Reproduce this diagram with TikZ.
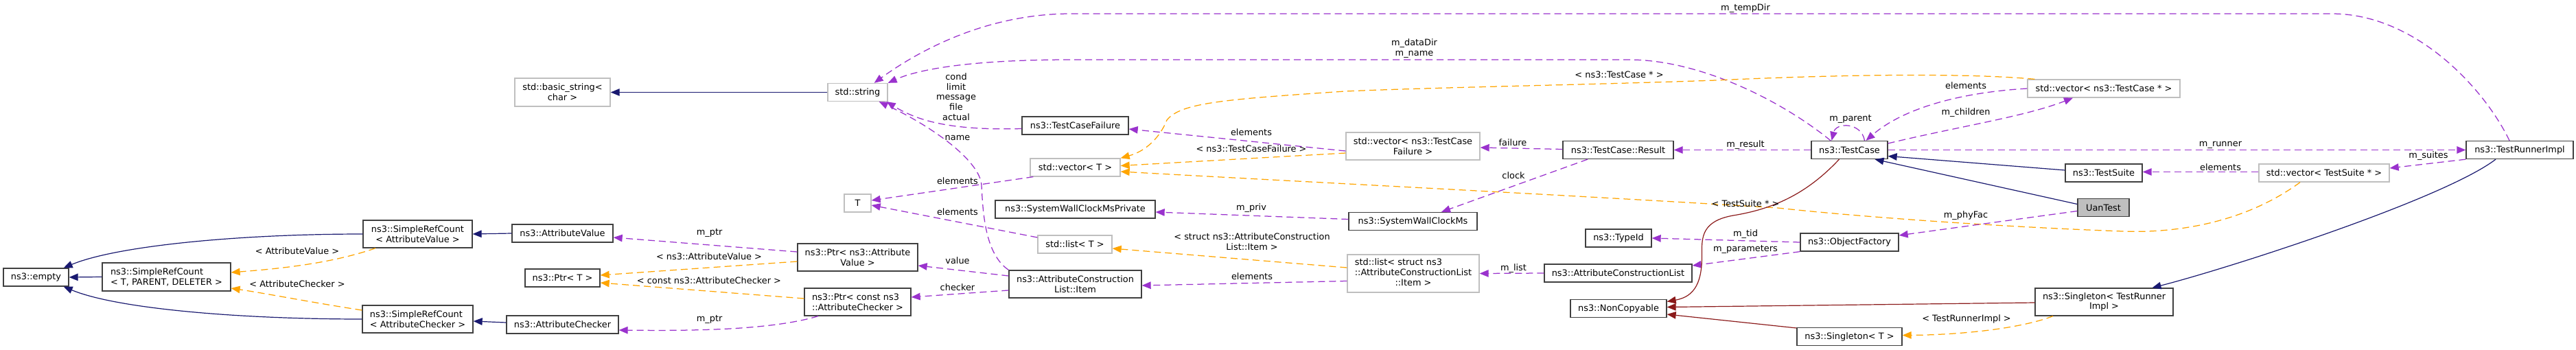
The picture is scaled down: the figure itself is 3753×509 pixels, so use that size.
\documentclass[tikz,border=0pt]{standalone}
\usepackage{fontspec}
\setmainfont{DejaVu Sans}
\usetikzlibrary{arrows.meta}
\definecolor{midblue}{HTML}{191970}
\definecolor{orchid}{HTML}{9A32CD}
\definecolor{orng}{HTML}{FFA500}
\definecolor{fbrick}{HTML}{8B1A1A}
\definecolor{grey75}{HTML}{BFBFBF}
\definecolor{docborder}{HTML}{404040}
\begin{document}
\begin{tikzpicture}[x=1pt,y=-1pt,
  doc/.style={draw=docborder, line width=1.3pt, fill=white, inner sep=0pt, align=center, font=\fontsize{12.9pt}{14.8pt}\selectfont},
  udoc/.style={doc, draw=grey75},
  lab/.style={inner sep=0pt, align=center, font=\fontsize{12.9pt}{14.8pt}\selectfont},
  tipk/.style={-{Triangle[length=13pt,width=10.5pt]}},
  eblue/.style={draw=midblue, line width=1.2pt, tipk},
  ered/.style={draw=fbrick, line width=1.2pt, tipk},
  epurple/.style={draw=orchid, line width=1.25pt, dash pattern=on 10pt off 6pt, tipk},
  eorange/.style={draw=orng, line width=1.25pt, dash pattern=on 10pt off 6pt, tipk}]
\fill[white] (0,0) rectangle (3753,509);
\useasboundingbox (0,0) rectangle (3753,509);

% nodes
\node[doc,minimum width=95pt,minimum height=26pt] (empty) at (52.5,404) {ns3::empty};
\node[doc,minimum width=187pt,minimum height=41pt,align=left] (srcTPD) at (242.5,403.5) {ns3::SimpleRefCount\\< T, PARENT, DELETER >};
\node[doc,minimum width=159pt,minimum height=40pt] (srcAV) at (608.5,341) {ns3::SimpleRefCount\\< AttributeValue >};
\node[doc,minimum width=161pt,minimum height=40pt,align=left] (srcAC) at (608.5,465) {ns3::SimpleRefCount\\< AttributeChecker >};
\node[udoc,minimum width=139pt,minimum height=41pt] (basicstr) at (819.5,134.5) {std::basic\_string<\\char >};
\node[udoc,minimum width=87pt,minimum height=26pt] (string) at (1249.5,134.5) {std::string};
\node[udoc,minimum width=39pt,minimum height=26pt] (T) at (1249.5,296) {T};
\node[doc,minimum width=175pt,minimum height=40pt] (ptrAV) at (1249.5,375) {ns3::Ptr< ns3::Attribute\\Value >};
\node[doc,minimum width=155pt,minimum height=40pt,align=left] (ptrAC) at (1249.5,440) {ns3::Ptr< const ns3\\::AttributeChecker >};
\node[doc,minimum width=147pt,minimum height=26pt] (attrValue) at (819.5,340) {ns3::AttributeValue};
\node[doc,minimum width=109pt,minimum height=26pt] (ptrT) at (819.5,405) {ns3::Ptr< T >};
\node[doc,minimum width=163pt,minimum height=26pt] (attrChecker) at (819.5,473) {ns3::AttributeChecker};
\node[doc,minimum width=155pt,minimum height=26pt] (tcf) at (1566.5,183) {ns3::TestCaseFailure};
\node[udoc,minimum width=131pt,minimum height=26pt] (vecT) at (1566.5,244) {std::vector< T >};
\node[doc,minimum width=233pt,minimum height=26pt] (swcmp) at (1566.5,305) {ns3::SystemWallClockMsPrivate};
\node[udoc,minimum width=108pt,minimum height=26pt] (listT) at (1566,356) {std::list< T >};
\node[doc,minimum width=193pt,minimum height=40pt] (acli) at (1566.5,414) {ns3::AttributeConstruction\\List::Item};
\node[udoc,minimum width=195pt,minimum height=40pt] (vecTCF) at (2058.5,213) {std::vector< ns3::TestCase\\Failure >};
\node[doc,minimum width=187pt,minimum height=26pt] (swcm) at (2058.5,322.5) {ns3::SystemWallClockMs};
\node[udoc,minimum width=192pt,minimum height=55pt] (listS) at (2059,398.5) {\begin{tabular}{@{}l@{}}std::list< struct ns3\\::AttributeConstructionList\\\multicolumn{1}{@{}c@{}}{::Item >}\end{tabular}};
\node[doc,minimum width=161pt,minimum height=26pt] (result) at (2357.5,218.5) {ns3::TestCase::Result};
\node[doc,minimum width=96pt,minimum height=26pt] (typeid) at (2358,347) {ns3::TypeId};
\node[doc,minimum width=143pt,minimum height=26pt] (objf) at (2694.5,353) {ns3::ObjectFactory};
\node[doc,minimum width=215pt,minimum height=26pt] (acl) at (2357.5,398) {ns3::AttributeConstructionList};
\node[doc,minimum width=140pt,minimum height=26pt] (noncopy) at (2358,449.5) {ns3::NonCopyable};
\node[doc,minimum width=153pt,minimum height=26pt] (singT) at (2694.5,490.5) {ns3::Singleton< T >};
\node[doc,minimum width=111pt,minimum height=26pt] (testcase) at (2694.5,218.5) {ns3::TestCase};
\node[udoc,minimum width=222pt,minimum height=26pt] (vecTC) at (3065,129) {std::vector< ns3::TestCase * >};
\node[doc,minimum width=112pt,minimum height=26pt] (testsuite) at (3065,252) {ns3::TestSuite};
\node[doc,fill=grey75,minimum width=75pt,minimum height=26pt] (uantest) at (3064.5,302.5) {UanTest};
\node[udoc,minimum width=190pt,minimum height=26pt] (vecTS) at (3386,252) {std::vector< TestSuite * >};
\node[doc,minimum width=156pt,minimum height=26pt] (runner) at (3671,218.5) {ns3::TestRunnerImpl};
\node[doc,minimum width=201pt,minimum height=40pt] (singTRI) at (3065.5,440) {ns3::Singleton< TestRunner\\Impl >};

% edges
\draw[eblue] (srcTPD.west) -- (empty.east);
\draw[eblue] (srcAV.west) .. controls (350,341) and (170,358) .. ([xshift=-8pt]empty.north east);
\draw[eblue] (srcAC.west) .. controls (350,465) and (170,450) .. ([xshift=-8pt]empty.south east);
\draw[eorange] ([xshift=-61.5pt]srcAV.south) .. controls (480,385) and (400,392) .. ([yshift=6.5pt]srcTPD.east);
\draw[eorange] ([yshift=13pt]srcAC.west) .. controls (450,440) and (390,428) .. ([yshift=-16.5pt]srcTPD.east);
\draw[eblue] (attrValue.west) -- (srcAV.east);
\draw[eblue] ([yshift=3pt]attrChecker.west) -- ([yshift=-3pt]srcAC.east);
\draw[epurple] ([yshift=8pt]ptrAV.west) -- ([yshift=-6pt]attrValue.east);
\draw[eorange] ([yshift=-6pt]ptrAV.west) -- ([yshift=4pt]ptrT.east);
\draw[eorange] ([yshift=5pt]ptrAC.west) -- ([yshift=-7pt]ptrT.east);
\draw[epurple] ([xshift=-57.5pt]ptrAC.south) .. controls (1120,482) and (1000,482) .. ([yshift=-8pt]attrChecker.east);
\draw[eblue] (string.west) -- (basicstr.east);
\draw[epurple] ([yshift=-4.5pt]tcf.west) .. controls (1390,190) and (1340,178) .. ([xshift=-2pt]string.south east);
\draw[epurple] (acli.north west) .. controls (1435,370) and (1432,310) .. (1430,270) .. controls (1428,235) and (1360,185) .. ([xshift=-13pt]string.south east);
\draw[epurple] ([xshift=-27.5pt]testcase.north) .. controls (2600,150) and (2480,87) .. (2373,87) -- (1560,87) .. controls (1420,87) and (1340,100) .. (string.north east);
\draw[epurple] ([xshift=-15pt]runner.north) .. controls (3620,130) and (3520,20) .. (3397,20) -- (1560,20) .. controls (1430,20) and (1330,80) .. ([xshift=-20pt]string.north east);
\draw[eorange] ([xshift=11pt]vecTC.north west) .. controls (2850,105) and (2650,110) .. (2500,117) .. controls (2300,124) and (2100,127) .. (1960,133) .. controls (1780,145) and (1720,150) .. (1700,175) .. controls (1690,200) and (1670,220) .. (vecT.north east);
\draw[eorange] ([yshift=-10pt]vecTCF.west) -- ([yshift=2.5pt]vecT.east);
\draw[eorange] ([xshift=-35pt]vecTS.south) .. controls (3270,325) and (3170,340) .. (3092,337) .. controls (2900,330) and (2700,315) .. (2590,303) .. controls (2300,285) and (1900,265) .. ([yshift=-6pt]vecT.east);
\draw[epurple] ([yshift=-7pt]vecTCF.west) -- ([yshift=-5pt]tcf.east);
\draw[epurple] ([xshift=5pt]vecT.south west) -- ([yshift=4pt]T.east);
\draw[epurple] ([yshift=10pt]listT.west) -- ([yshift=-3pt]T.east);
\draw[epurple] ([yshift=3pt]swcm.west) -- ([yshift=-4pt]swcmp.east);
\draw[eorange] ([yshift=8.5pt]listS.west) -- ([yshift=-6pt]listT.east);
\draw[epurple] ([yshift=-11pt]listS.west) -- ([yshift=-2pt]acli.east);
\draw[epurple] ([yshift=12pt]acli.west) -- ([yshift=-12pt]ptrAV.east);
\draw[epurple] ([yshift=-9pt]acli.west) -- ([yshift=7pt]ptrAC.east);
\draw[epurple] ([yshift=1pt]result.west) -- ([yshift=-2pt]vecTCF.east);
\draw[epurple] ([xshift=-44.5pt]result.south) -- ([xshift=41.5pt]swcm.north);
\draw[epurple] (testcase.west) -- (result.east);
\draw[epurple] ([xshift=22pt]testcase.north) .. controls (2712,178) and (2675,178) .. ([xshift=-26pt]testcase.north);
\draw[epurple] (vecTC.west) .. controls (2850,135) and (2770,160) .. ([xshift=24pt]testcase.north);
\draw[epurple] ([yshift=9.5pt]testcase.east) .. controls (2850,185) and (2950,170) .. ([xshift=-45pt]vecTC.south);
\draw[epurple] (testcase.east) -- (runner.west);
\draw[epurple] (runner.south west) -- ([yshift=7pt]vecTS.east);
\draw[epurple] ([yshift=1.5pt]vecTS.west) -- ([yshift=1.5pt]testsuite.east);
\draw[eblue] ([yshift=4pt]testsuite.west) -- ([yshift=-9pt]testcase.east);
\draw[eblue] ([yshift=5pt]uantest.west) -- ([xshift=37pt]testcase.south);
\draw[epurple] ([yshift=-5pt]uantest.west) -- ([yshift=10pt]objf.east);
\draw[epurple] (objf.west) -- (typeid.east);
\draw[epurple] (objf.south west) -- ([yshift=11pt]acl.east);
\draw[epurple] (acl.west) -- (listS.east);
\draw[ered] ([xshift=-15pt]testcase.south) .. controls (2630,285) and (2580,305) .. (2525,314) .. controls (2480,322) and (2479,345) .. (2479.5,370) .. controls (2480,410) and (2470,432) .. ([yshift=10pt]noncopy.east);
\draw[ered] ([yshift=-1pt]singTRI.west) -- ([yshift=2pt]noncopy.east);
\draw[ered] ([yshift=12.5pt]singT.west) -- ([yshift=-8.5pt]noncopy.east);
\draw[eorange] ([xshift=-74.5pt]singTRI.south) .. controls (2940,480) and (2850,488) .. ([yshift=2pt]singT.east);
\draw[eblue] ([xshift=-35pt]runner.south) .. controls (3560,290) and (3250,390) .. ([xshift=70pt]singTRI.north);

% labels
\node[lab] (l1) at (433,366) {< AttributeValue >};
\node[lab] (l2) at (433,414) {< AttributeChecker >};
\node[lab] (l3) at (1033.6,339.5) {m\_ptr};
\node[lab] (l4) at (1033,374) {< ns3::AttributeValue >};
\node[lab] (l5) at (1033,408.7) {< const ns3::AttributeChecker >};
\node[lab] (l6) at (1033.6,465) {m\_ptr};
\node[lab] (l7) at (1393,141) {cond\\limit\\message\\file\\actual};
\node[lab] (l8) at (1395,201) {name};
\node[lab] (l9) at (2060.5,71) {m\_dataDir\\m\_name};
\node[lab] (l10) at (2543,12.5) {m\_tempDir};
\node[lab] (l11) at (2359,108.5) {< ns3::TestCase * >};
\node[lab] (l12) at (1823,217) {< ns3::TestCaseFailure >};
\node[lab] (l13) at (2543,297) {< TestSuite * >};
\node[lab] (l14) at (1823,193) {elements};
\node[lab] (l15) at (1395,264) {elements};
\node[lab] (l16) at (1395,309) {elements};
\node[lab] (l17) at (1823,303) {m\_priv};
\node[lab] (l18) at (1824,352) {< struct ns3::AttributeConstruction\\List::Item >};
\node[lab] (l19) at (1824,403) {elements};
\node[lab] (l20) at (1395,380) {value};
\node[lab] (l21) at (1395,419) {checker};
\node[lab] (l22) at (2204,207.5) {failure};
\node[lab] (l23) at (2205,256) {clock};
\node[lab] (l24) at (2543,211) {m\_result};
\node[lab] (l25) at (2696,173) {m\_parent};
\node[lab] (l26) at (2864,125) {elements};
\node[lab] (l27) at (2864,164.5) {m\_children};
\node[lab] (l28) at (3235,211) {m\_runner};
\node[lab] (l29) at (3538,227) {m\_suites};
\node[lab] (l30) at (3235,243.5) {elements};
\node[lab] (l31) at (2864,314) {m\_phyFac};
\node[lab] (l32) at (2543,341) {m\_tid};
\node[lab] (l33) at (2543,363) {m\_parameters};
\node[lab] (l34) at (2205,391) {m\_list};
\node[lab] (l35) at (2865,465) {< TestRunnerImpl >};
\end{tikzpicture}
\end{document}
